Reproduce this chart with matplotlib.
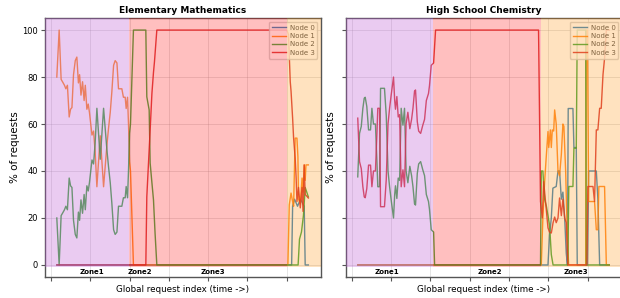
import matplotlib
matplotlib.use("Agg")
import matplotlib.pyplot as plt

# --- data (request index, % of requests) ---
math_node0 = [(30, 0), (1225, 0), (1230, 25), (1240, 28), (1255, 25), (1270, 28),
              (1289, 25), (1294, 0), (1310, 0)]
math_node1 = [(30, 80), (42, 100), (52, 79), (59, 78), (69, 76.5), (76, 75), (84, 76.5),
              (93, 63), (100, 66.3), (107, 67), (115, 81), (124, 87), (132, 88.5),
              (140, 77.5), (146, 81), (153, 72.3), (161, 78), (169, 70), (175, 76.5),
              (183, 66.3), (190, 68.5), (196, 65), (209, 55.3), (217, 57), (225, 48.3),
              (234, 33.3), (251, 55), (268, 33.3), (285, 51), (293, 58), (302, 65),
              (310, 73.6), (319, 85), (327, 87), (336, 86), (344, 75), (361, 75),
              (369, 71.4), (378, 71.4), (383, 66.6), (390, 71.4), (395, 59.5), (400, 44),
              (405, 40), (420, 0), (1206, 0), (1213, 25.6), (1222, 30.6), (1230, 27),
              (1235, 25), (1243, 54), (1252, 54), (1257, 46), (1260, 28), (1269, 26),
              (1278, 37), (1283, 31), (1289, 42.6), (1294, 36), (1298, 42.6), (1310, 42.6)]
math_node2 = [(30, 20), (42, 0), (52, 21), (59, 22), (69, 23.5), (76, 25), (84, 23.5),
              (93, 37), (100, 33.7), (107, 33), (115, 19), (124, 13), (132, 11.5),
              (140, 22.5), (146, 19), (153, 27.7), (161, 22), (169, 30), (175, 23.5),
              (183, 33.7), (190, 31.5), (196, 35), (209, 44.7), (217, 43), (225, 51.7),
              (234, 66.7), (251, 45), (268, 66.7), (285, 49), (293, 42), (302, 35),
              (310, 26.4), (319, 15), (327, 13), (336, 14), (344, 25), (361, 25),
              (369, 28.6), (378, 28.6), (383, 33.4), (390, 28.6), (395, 40.5), (400, 56),
              (405, 60), (420, 100), (483, 100), (488, 71.6), (500, 66), (505, 43.4),
              (514, 35), (522, 27.7), (530, 13.6), (539, 0), (1258, 0), (1265, 11),
              (1275, 14), (1285, 21), (1294, 33), (1310, 29)]
math_node3 = [(30, 0), (483, 0), (488, 29), (500, 49), (505, 57.5), (514, 73), (522, 82),
              (527, 86.5), (539, 100), (1201, 100), (1209, 98), (1218, 78), (1222, 74),
              (1230, 62.5), (1235, 54), (1243, 45.5), (1248, 37), (1252, 27), (1260, 33),
              (1269, 24.3), (1278, 33), (1283, 22.8), (1289, 42.6), (1294, 30),
              (1303, 29.2), (1310, 28.5)]

chem_node0 = [(30, 0), (998, 0), (1006, 12.7), (1015, 20), (1023, 32.7), (1040, 33.4),
              (1049, 40), (1057, 40), (1066, 28), (1074, 31), (1083, 20), (1091, 5),
              (1097, 0), (1101, 66.6), (1125, 66.6), (1130, 50), (1142, 50), (1147, 0),
              (1199, 0), (1205, 40), (1244, 40), (1252, 28), (1261, 0), (1310, 0)]
chem_node1 = [(30, 0), (964, 0), (972, 20), (981, 35.5), (990, 47), (998, 56.8),
              (1002, 50), (1010, 57.5), (1015, 50), (1020, 57.5), (1027, 57), (1032, 66),
              (1040, 60), (1049, 39.8), (1057, 38), (1066, 47), (1074, 60), (1079, 59),
              (1088, 39.8), (1094, 20), (1103, 0), (1190, 0), (1193, 100), (1199, 100),
              (1205, 27), (1235, 27), (1244, 15), (1252, 15), (1257, 33.4), (1286, 33.4),
              (1295, 0), (1310, 0)]
chem_node2 = [(30, 37.5), (39, 56), (48, 59), (56, 66.7), (63, 71), (68, 71.4), (76, 67.5),
              (85, 57.5), (95, 57.5), (102, 66.7), (110, 60), (120, 60), (128, 43),
              (132, 33.3), (141, 33.3), (146, 75.2), (166, 75.2), (175, 63.7), (184, 40),
              (192, 33.3), (200, 27.7), (212, 20), (218, 30), (222, 33.7), (229, 28.3),
              (236, 37), (243, 36), (251, 66.7), (260, 59.5), (268, 66.7), (276, 40),
              (285, 35), (295, 42), (304, 38), (311, 33.3), (319, 26), (324, 25.5),
              (333, 39), (340, 43), (350, 44), (361, 40.5), (370, 38), (379, 30), (390, 27),
              (395, 23.7), (404, 15), (416, 14), (421, 0), (960, 0), (964, 40), (972, 40),
              (981, 28), (990, 25), (998, 21), (1006, 17), (1015, 4.4), (1024, 0),
              (1099, 0), (1104, 33.4), (1125, 33.4), (1130, 49.7), (1142, 49.7),
              (1147, 100), (1190, 100), (1193, 0), (1310, 0)]
chem_node3 = [(30, 62.5), (39, 44), (48, 41), (56, 33.3), (63, 29), (68, 28.6), (76, 32.5),
              (85, 42.5), (95, 42.5), (102, 33.3), (110, 40), (120, 40), (128, 57),
              (132, 66.7), (141, 66.7), (146, 24.8), (166, 24.8), (175, 36.3), (184, 60),
              (192, 66.7), (200, 72.3), (212, 80), (218, 70), (222, 66.3), (229, 71.7),
              (236, 63), (243, 64), (251, 33.3), (260, 40.5), (268, 33.3), (276, 60),
              (285, 65), (295, 58), (304, 62), (311, 66.7), (319, 74), (324, 74.5),
              (333, 61), (340, 57), (350, 56), (361, 59.5), (370, 62), (379, 70), (390, 73),
              (395, 76.3), (404, 85), (416, 86), (426, 100), (950, 100), (955, 64),
              (960, 27), (969, 20), (976, 35.5), (990, 23), (998, 15.8), (1006, 14),
              (1015, 13.6), (1024, 18), (1032, 20.4), (1040, 18), (1049, 20), (1057, 28.5),
              (1066, 21), (1074, 28), (1083, 20), (1091, 18), (1099, 0), (1196, 0),
              (1201, 33.4), (1227, 33.4), (1235, 27), (1244, 57.5), (1252, 57.5),
              (1261, 66.7), (1269, 66.7), (1278, 81), (1286, 88), (1295, 100), (1310, 100)]

node_labels = ["Node 0", "Node 1", "Node 2", "Node 3"]
zone_labels = ["Zone1", "Zone2", "Zone3"]

math_zone_edges = [397, 1201]
math_zone_label_x = [209, 453, 824]
chem_zone_edges = [411, 962]
chem_zone_label_x = [177, 700, 1138]

XLIM = (-30, 1374)
ZONE_COLORS = [("mediumorchid", 0.30), ("red", 0.25), ("darkorange", 0.25)]
NODE_COLORS = ["tab:blue", "tab:orange", "tab:green", "tab:red"]
SPINE = "#555555"


def draw_panel(ax, title, series, edges, label_x):
    for pts, name, col in zip(series, node_labels, NODE_COLORS):
        xs, ys = zip(*pts)
        ax.plot(xs, ys, color=col, lw=1.0, alpha=0.85, label=name, zorder=2)

    ax.set_xlim(*XLIM)
    ax.set_ylim(-5, 105)
    ax.set_xticks(range(0, 1300, 200))
    ax.set_xticklabels([])
    ax.set_yticks(range(0, 101, 20))
    ax.grid(True, color="#999999", alpha=0.3, lw=0.6)
    ax.tick_params(length=3, width=0.8, color=SPINE, labelsize=6, pad=2)
    for sp in ax.spines.values():
        sp.set_color(SPINE)
        sp.set_linewidth(1.0)

    leg = ax.legend(loc="upper right", fontsize=5, framealpha=0.8,
                    handlelength=2.0, borderpad=0.4, labelspacing=0.35,
                    handletextpad=0.6, labelcolor="#555555", edgecolor="#cccccc")
    leg.set_zorder(3)

    # zone shading drawn on top of everything, from just below zero upward
    bounds = [XLIM[0]] + edges + [XLIM[1]]
    ymin = (-1 - (-5)) / 110
    for (c, a), x0, x1 in zip(ZONE_COLORS, bounds[:-1], bounds[1:]):
        ax.axvspan(x0, x1, ymin=ymin, ymax=1, color=c, alpha=a, lw=0, zorder=6)

    for x, lab in zip(label_x, zone_labels):
        ax.text(x, -3, lab, fontsize=5, fontweight="bold", ha="center", va="center",
                zorder=7)

    ax.set_title(title, fontsize=6.5, fontweight="bold", pad=4)
    ax.set_xlabel("Global request index (time ->)", fontsize=6.3, labelpad=1)
    ax.set_ylabel("% of requests", fontsize=7.5, labelpad=2)


fig = plt.figure(figsize=(6.2, 2.98), dpi=100)
ax1 = fig.add_axes([0.0726, 0.0715, 0.445, 0.867])
ax2 = fig.add_axes([0.558, 0.0715, 0.445, 0.867])

draw_panel(ax1, "Elementary Mathematics",
           [math_node0, math_node1, math_node2, math_node3],
           math_zone_edges, math_zone_label_x)
draw_panel(ax2, "High School Chemistry",
           [chem_node0, chem_node1, chem_node2, chem_node3],
           chem_zone_edges, chem_zone_label_x)
ax2.set_yticklabels([])

fig.savefig("out.png", dpi=100)
